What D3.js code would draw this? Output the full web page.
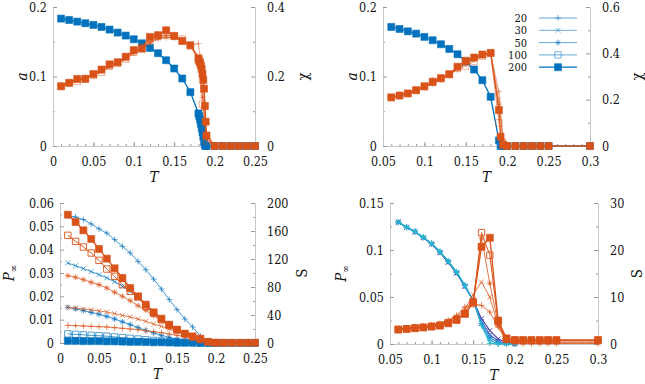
<!DOCTYPE html>
<html>
<head>
<meta charset="utf-8">
<script src="https://cdn.jsdelivr.net/npm/d3@7"></script>
<style>
  body { margin: 0; background: #fff; }
  svg text { font-family: "DejaVu Serif Condensed", "DejaVu Serif", serif; font-stretch: condensed; fill: #111; }
</style>
</head>
<body>
<svg id="chart" width="645" height="384"></svg>
<script>
// system sizes and their marker
var sizes = ["20", "30", "50", "100", "200"];
var markerOf = { "20": "plus", "30": "cross", "50": "star", "100": "osq", "200": "sq" };

// ---- panel A (top left): a and chi vs T
var tA = [0.01,0.02,0.03,0.04,0.05,0.06,0.07,0.08,0.09,0.10,0.11,0.12,0.13,0.14,0.15,0.16,0.17,0.18,0.185,0.19,0.2];
var tA200 = [0.01,0.02,0.03,0.04,0.05,0.06,0.07,0.08,0.09,0.10,0.11,0.12,0.13,0.14,0.15,0.16,0.17,0.18,
  0.181,0.182,0.183,0.184,0.185,0.186,0.187,0.188,0.189,0.19,0.2,0.21,0.22,0.23,0.24,0.25];
var aA200 = [0.1833,0.1813,0.179,0.1766,0.1742,0.1713,0.1675,0.1632,0.1589,0.1536,0.1478,0.1411,0.1335,0.1234,0.1115,0.0971,0.0775,0.0469,
  0.043,0.038,0.032,0.026,0.02,0.013,0.006,0.001,0,0,0,0,0,0,0,0];
var chiA200 = [0.172,0.182,0.193,0.193,0.207,0.22,0.235,0.241,0.257,0.276,0.28,0.314,0.319,0.333,0.317,0.302,0.29,0.252,
  0.245,0.24,0.232,0.222,0.208,0.19,0.165,0.115,0.07,0.03,0,0,0,0,0,0];
var chiA20 = [0.175,0.182,0.19,0.198,0.206,0.216,0.228,0.24,0.252,0.267,0.282,0.297,0.308,0.312,0.31,0.304,0.288,0.295,0.2,0.04,0];
var chiA30 = [0.172,0.18,0.188,0.196,0.204,0.214,0.226,0.238,0.25,0.266,0.28,0.296,0.31,0.313,0.312,0.305,0.29,0.26,0.16,0.03,0];
var chiA50 = [0.17,0.181,0.19,0.195,0.205,0.218,0.232,0.24,0.255,0.272,0.283,0.3,0.312,0.318,0.314,0.306,0.292,0.25,0.14,0.02,0];
var chiA100 = [0.171,0.18,0.186,0.194,0.203,0.212,0.23,0.238,0.25,0.27,0.285,0.305,0.315,0.32,0.316,0.308,0.288,0.245,0.12,0.015,0];

// ---- panel B (top right): a and chi vs T
var tB = [0.06,0.07,0.08,0.09,0.10,0.11,0.12,0.13,0.14,0.15,0.16,0.17,0.18,0.19,0.195,0.2];
var tB200 = [0.06,0.07,0.08,0.09,0.10,0.11,0.12,0.13,0.14,0.15,0.16,0.17,0.18,0.19,0.192,0.195,0.2,0.21,0.22,0.23,0.24,0.25,0.3];
var aB200 = [0.1713,0.1684,0.165,0.1617,0.157,0.1522,0.1464,0.1397,0.132,0.1215,0.11,0.0947,0.0708,0.008,0,0,0,0,0,0,0,0,0];
var chiB200 = [0.21,0.218,0.227,0.241,0.258,0.276,0.293,0.31,0.342,0.368,0.382,0.395,0.402,0.155,0.04,0.005,0,0,0,0,0,0,0];
var chiB20 = [0.212,0.22,0.228,0.238,0.252,0.268,0.285,0.305,0.33,0.355,0.375,0.39,0.398,0.235,0.03,0];
var chiB30 = [0.208,0.219,0.23,0.244,0.255,0.27,0.29,0.308,0.335,0.36,0.378,0.39,0.4,0.2,0.02,0];
var chiB50 = [0.21,0.215,0.225,0.24,0.26,0.285,0.295,0.312,0.338,0.355,0.372,0.392,0.401,0.18,0.015,0];
var chiB100 = [0.209,0.217,0.226,0.24,0.255,0.28,0.29,0.308,0.335,0.345,0.365,0.388,0.4,0.1,0.01,0];

// ---- panel C (bottom left): P_inf and S vs T
var tC = [0.01,0.02,0.03,0.04,0.05,0.06,0.07,0.08,0.09,0.10,0.11,0.12,0.13,0.14,0.15,0.16,0.17,0.18,0.19,0.2];
var tC200 = [0.01,0.02,0.03,0.04,0.05,0.06,0.07,0.08,0.09,0.10,0.11,0.12,0.13,0.14,0.15,0.16,0.17,0.18,0.19,0.2,0.21,0.22,0.23,0.24,0.25];
var pC20 = [0.0546,0.054,0.0529,0.051,0.0489,0.0471,0.0443,0.0414,0.0386,0.035,0.0314,0.0274,0.0231,0.0186,0.0143,0.0103,0.0069,0.0029,0.0007,0];
var pC30 = [0.0343,0.0331,0.0319,0.0306,0.0293,0.0279,0.0263,0.0243,0.0221,0.0193,0.0164,0.0136,0.0107,0.0079,0.0057,0.004,0.0026,0.0014,0.0006,0];
var pC50 = [0.0153,0.0146,0.0139,0.0131,0.0123,0.0114,0.0103,0.0091,0.0079,0.0066,0.0054,0.0043,0.0033,0.0024,0.0017,0.0011,0.0007,0.0004,0.0002,0];
var pC100 = [0.0039,0.0037,0.0035,0.0033,0.0031,0.0029,0.0026,0.0023,0.002,0.0017,0.0014,0.0011,0.0009,0.0007,0.0005,0.0003,0.0002,0.0001,0,0];
var pC200 = [0.0009,0.0009,0.0008,0.0008,0.0008,0.0007,0.0007,0.0006,0.0005,0.0005,0.0004,0.0003,0.0003,0.0002,0.0001,0.0001,0.0001,0,0,0,0,0,0,0,0];
var sC20 = [25.2,24.8,24.3,23.8,23.3,22.9,21.9,21,20,19,17.6,16.2,14.8,12.9,11,9,7.1,5.2,3.3,1.5];
var sC30 = [51,50,48.6,47.6,45.7,44.3,41.9,39.5,37.1,34.3,31,27.1,23.8,20,16.2,12.9,9.5,6.2,3.3,1];
var sC50 = [96.2,93.8,90.5,86.7,83.3,78.6,72.4,66.7,60.5,53.3,46.7,39,31.9,23.8,18.1,12.9,9,5.2,2.4,0.5];
var sC100 = [153.8,145.2,137.1,128.6,118.1,105.7,95.2,83.3,73.8,65.7,52.4,42.9,33.3,24.8,19,13.3,8.6,4.8,1.9,0.5];
var sC200 = [183.3,172.9,161,148.6,134.3,120.5,106.7,92.9,78.6,66.7,54.8,43.8,34.8,26.2,19,13.3,9.5,6.2,1.5,0.5,0.4,0.4,0.4,0.4,0.4];

// ---- panel D (bottom right): P_inf and S vs T
var tD = [0.06,0.07,0.08,0.09,0.10,0.11,0.12,0.13,0.14,0.15,0.16,0.17,0.18,0.19,0.2];
var tDs = [0.06,0.07,0.08,0.09,0.10,0.11,0.12,0.13,0.14,0.15,0.16,0.17,0.18,0.19,0.2,0.21,0.22,0.23,0.24,0.25,0.3];
var pD20 = [0.1296,0.1241,0.1192,0.113,0.1062,0.0972,0.0868,0.0752,0.061,0.0462,0.027,0.0143,0.0054,0.0018,0.0005];
var pD30 = [0.1296,0.1242,0.1194,0.1133,0.1066,0.0976,0.0874,0.0758,0.0616,0.0463,0.024,0.01,0.003,0.0008,0];
var pD50 = [0.1296,0.1242,0.1195,0.1134,0.1068,0.0979,0.0878,0.0763,0.062,0.0464,0.022,0.007,0.0015,0.0002,0];
var pD100 = [0.1296,0.1243,0.1196,0.1135,0.107,0.0981,0.088,0.0766,0.0623,0.0464,0.02,0.004,0.0004,0,0];
var pD200 = [0.1296,0.1243,0.1196,0.1136,0.1071,0.0982,0.0882,0.0768,0.0625,0.0464,0.0196,0.0008,0,0,0];
var sD20 = [3.25,3.4,3.6,3.8,4.05,4.4,5.1,6.1,7.9,8.6,8.2,6.8,3.6,0.6,0.2,0.1,0.1,0.1,0.1,0.1,0.1];
var sD30 = [3.2,3.35,3.5,3.7,3.95,4.3,4.9,5.8,7.4,10.5,13.2,10,3.9,0.7,0.3,0.25,0.25,0.25,0.25,0.25,0.25];
var sD50 = [3.15,3.3,3.45,3.6,3.85,4.1,4.7,5.5,6.9,9.3,22.5,12.9,4.3,0.86,0.5,0.45,0.45,0.45,0.45,0.45,0.45];
var sD100 = [3.1,3.25,3.4,3.55,3.75,4.0,4.5,5.2,6.5,8.6,23.7,18.9,4.6,1.0,0.8,0.75,0.75,0.75,0.75,0.75,0.75];
var sD200 = [3.07,3.2,3.36,3.5,3.7,3.9,4.4,5.1,6.4,8.9,20.7,22.6,5,1.2,0.86,0.86,0.86,0.86,0.86,0.86,0.86];

// tick values
var xTicksA = [0, 0.05, 0.1, 0.15, 0.2, 0.25];
var xTicksB = [0.05, 0.1, 0.15, 0.2, 0.25, 0.3];
var aTicks = [0, 0.1, 0.2];
var chiTicksA = [0, 0.2, 0.4];
var chiTicksB = [0, 0.2, 0.4, 0.6];
var pTicksC = [0, 0.01, 0.02, 0.03, 0.04, 0.05, 0.06];
var sTicksC = [0, 40, 80, 120, 160, 200];
var pTicksD = [0, 0.05, 0.1, 0.15];
var sTicksD = [0, 10, 20, 30];

var blue = "#0072BD";
var orange = "#D95319";
var blueShades = { "20": "#4a3fa6", "30": "#3b62c2", "50": "#2f86d2", "100": "#27a5d5", "200": "#22bacb" };
var axisGrey = "#c8c8c8";
var tickGrey = "#9a9a9a";
var serif = '"DejaVu Serif Condensed", "DejaVu Serif", serif';

var svg = d3.select("#chart");

function fmt(d) {
  return String(+d.toFixed(3));
}

function range(a, b, s) {
  return d3.range(0, Math.round((b - a) / s) + 1).map(function (i) { return +(a + i * s).toFixed(4); });
}

function markerPath(type, s) {
  if (type == "plus") return "M" + -s + ",0H" + s + "M0," + -s + "V" + s;
  if (type == "cross") {
    var c = s * 0.8;
    return "M" + -c + "," + -c + "L" + c + "," + c + "M" + -c + "," + c + "L" + c + "," + -c;
  }
  if (type == "star") {
    var k = s * 0.7;
    return "M" + -s + ",0H" + s + "M0," + -s + "V" + s +
      "M" + -k + "," + -k + "L" + k + "," + k + "M" + -k + "," + k + "L" + k + "," + -k;
  }
  return "M" + -s + "," + -s + "h" + 2 * s + "v" + 2 * s + "h" + -2 * s + "Z";
}

function drawMarkers(g, pts, type, color, opacity) {
  var filled = type == "sq";
  var size = type == "sq" ? 3.5 : type == "osq" ? 3.2 : 3;
  g.selectAll(null)
    .data(pts)
    .enter()
    .append("path")
    .attr("transform", function (d) { return "translate(" + d[0] + "," + d[1] + ")"; })
    .attr("d", markerPath(type, size))
    .attr("fill", filled ? color : "none")
    .attr("stroke", color)
    .attr("stroke-width", filled ? 0.6 : 0.9)
    .attr("opacity", opacity);
}

function drawPanel(p) {
  var g = svg.append("g");
  var x = d3.scaleLinear().domain(p.xDomain).range([p.x0, p.x1]);
  var yl = d3.scaleLinear().domain(p.ylDomain).range([p.y1, p.y0]);
  var yr = d3.scaleLinear().domain(p.yrDomain).range([p.y1, p.y0]);

  // minor ticks first
  var minors = [
    [d3.axisBottom(x).tickValues(p.xMinor), "translate(0," + p.y1 + ")"],
    [d3.axisLeft(yl).tickValues(p.ylMinor), "translate(" + p.x0 + ",0)"],
    [d3.axisRight(yr).tickValues(p.yrMinor), "translate(" + p.x1 + ",0)"]
  ];
  minors.forEach(function (m) {
    var ag = g.append("g").attr("transform", m[1])
      .call(m[0].tickSize(-2).tickFormat(""));
    ag.select(".domain").remove();
    ag.selectAll("line").attr("stroke", tickGrey);
  });

  var axes = [
    [d3.axisBottom(x).tickValues(p.xTicks).tickPadding(11), "translate(0," + p.y1 + ")"],
    [d3.axisLeft(yl).tickValues(p.ylTicks).tickPadding(6), "translate(" + p.x0 + ",0)"],
    [d3.axisRight(yr).tickValues(p.yrTicks).tickPadding(12), "translate(" + p.x1 + ",0)"]
  ];
  axes.forEach(function (a) {
    var ag = g.append("g").attr("transform", a[1])
      .call(a[0].tickSize(-4).tickSizeOuter(0).tickFormat(fmt));
    ag.attr("font-family", serif);
    ag.select(".domain").attr("stroke", axisGrey);
    ag.selectAll("line").attr("stroke", tickGrey);
    ag.selectAll("text").attr("font-size", 12.5).attr("fill", "#111");
  });

  // series
  p.series.forEach(function (s) {
    var ys = s.axis == "r" ? yr : yl;
    var pts = s.t.map(function (t, i) { return [x(t), ys(s.v[i])]; });
    g.append("path")
      .attr("d", d3.line()(pts))
      .attr("fill", "none")
      .attr("stroke", s.color)
      .attr("stroke-width", s.width || 1)
      .attr("opacity", s.opacity);
    drawMarkers(g, pts, s.m, s.color, s.opacity);
  });

  // axis titles
  var xm = (p.x0 + p.x1) / 2;
  var ym = (p.y0 + p.y1) / 2;
  g.append("text").attr("x", xm).attr("y", p.y1 + 36)
    .attr("text-anchor", "middle").attr("font-size", 15).attr("font-style", "italic").text("T");

  var lt = g.append("text")
    .attr("transform", "translate(" + p.ylx + "," + ym + ") rotate(-90)")
    .attr("text-anchor", "middle").attr("font-size", 15);
  lt.append("tspan").attr("font-style", "italic").text(p.ylLabel);
  if (p.ylSub) lt.append("tspan").attr("font-size", 10).attr("dy", 3).text(p.ylSub);

  g.append("text")
    .attr("transform", "translate(" + p.yrx + "," + ym + ") rotate(-90)")
    .attr("text-anchor", "middle").attr("font-size", 15).text(p.yrLabel);
}

// panel A
var chiA = { "20": chiA20, "30": chiA30, "50": chiA50, "100": chiA100 };
var seriesA = [{ t: tA200, v: aA200, axis: "l", color: blue, m: "sq", opacity: 1, width: 1.3 }];
sizes.slice(0, 4).forEach(function (L) {
  seriesA.push({ t: tA, v: chiA[L], axis: "r", color: orange, m: markerOf[L], opacity: 0.5 });
});
seriesA.push({ t: tA200, v: chiA200, axis: "r", color: orange, m: "sq", opacity: 1, width: 1.3 });

drawPanel({
  x0: 53, x1: 255, y0: 7, y1: 146,
  xDomain: [0, 0.25], ylDomain: [0, 0.2], yrDomain: [0, 0.4],
  xTicks: xTicksA, xMinor: range(0, 0.25, 0.01),
  ylTicks: aTicks, ylMinor: [0.05, 0.15],
  yrTicks: chiTicksA, yrMinor: [0.1, 0.3],
  ylLabel: "a", ylx: 27, yrLabel: "χ", yrx: 308,
  series: seriesA
});

// panel B
var chiB = { "20": chiB20, "30": chiB30, "50": chiB50, "100": chiB100 };
var seriesB = [{ t: tB200, v: aB200, axis: "l", color: blue, m: "sq", opacity: 1, width: 1.3 }];
sizes.slice(0, 4).forEach(function (L) {
  seriesB.push({ t: tB, v: chiB[L], axis: "r", color: orange, m: markerOf[L], opacity: 0.5 });
});
seriesB.push({ t: tB200, v: chiB200, axis: "r", color: orange, m: "sq", opacity: 1, width: 1.3 });

drawPanel({
  x0: 383, x1: 590, y0: 7, y1: 146,
  xDomain: [0.05, 0.3], ylDomain: [0, 0.2], yrDomain: [0, 0.6],
  xTicks: xTicksB, xMinor: range(0.05, 0.3, 0.01),
  ylTicks: aTicks, ylMinor: [0.05, 0.15],
  yrTicks: chiTicksB, yrMinor: [0.1, 0.3, 0.5],
  ylLabel: "a", ylx: 357, yrLabel: "χ", yrx: 642,
  series: seriesB
});

// legend (panel B)
var leg = svg.append("g").attr("font-family", serif);
sizes.forEach(function (L, i) {
  var y = 18 + i * 12.3;
  leg.append("text").attr("x", 527).attr("y", y + 4)
    .attr("text-anchor", "end").attr("font-size", 11).text(L);
  var op = L == "200" ? 1 : 0.6;
  leg.append("line").attr("x1", 539).attr("x2", 577).attr("y1", y).attr("y2", y)
    .attr("stroke", blue).attr("stroke-width", L == "200" ? 1.3 : 1).attr("opacity", op);
  drawMarkers(leg, [[558, y]], markerOf[L], blue, op);
});

// panel C
var pC = { "20": pC20, "30": pC30, "50": pC50, "100": pC100, "200": pC200 };
var sC = { "20": sC20, "30": sC30, "50": sC50, "100": sC100, "200": sC200 };
var seriesC = [];
sizes.forEach(function (L) {
  seriesC.push({ t: L == "200" ? tC200 : tC, v: pC[L], axis: "l", color: blue, m: markerOf[L],
    opacity: L == "200" ? 1 : 0.75, width: L == "200" ? 1.3 : 1 });
});
sizes.forEach(function (L) {
  seriesC.push({ t: L == "200" ? tC200 : tC, v: sC[L], axis: "r", color: orange, m: markerOf[L],
    opacity: L == "200" || L == "100" ? 1 : 0.75, width: L == "200" ? 1.3 : 1 });
});

drawPanel({
  x0: 60, x1: 255, y0: 203, y1: 343,
  xDomain: [0, 0.25], ylDomain: [0, 0.06], yrDomain: [0, 200],
  xTicks: xTicksA, xMinor: range(0, 0.25, 0.01),
  ylTicks: pTicksC, ylMinor: range(0.005, 0.055, 0.01),
  yrTicks: sTicksC, yrMinor: [20, 60, 100, 140, 180],
  ylLabel: "P", ylSub: "∞", ylx: 14, yrLabel: "S", yrx: 307,
  series: seriesC
});

// panel D: blue curves carry only small markers
var markerD = { "20": "cross", "30": "cross", "50": "star", "100": "plus", "200": "plus" };
var pD = { "20": pD20, "30": pD30, "50": pD50, "100": pD100, "200": pD200 };
var sD = { "20": sD20, "30": sD30, "50": sD50, "100": sD100, "200": sD200 };
var seriesD = [];
sizes.forEach(function (L) {
  seriesD.push({ t: tD, v: pD[L], axis: "l", color: blueShades[L], m: markerD[L], opacity: 1, width: 1.1 });
});
sizes.forEach(function (L) {
  seriesD.push({ t: tDs, v: sD[L], axis: "r", color: orange, m: markerOf[L],
    opacity: L == "200" || L == "100" ? 1 : 0.8, width: L == "200" ? 1.3 : 1 });
});

drawPanel({
  x0: 390, x1: 598, y0: 203, y1: 344,
  xDomain: [0.05, 0.3], ylDomain: [0, 0.15], yrDomain: [0, 30],
  xTicks: xTicksB, xMinor: range(0.05, 0.3, 0.01),
  ylTicks: pTicksD, ylMinor: [0.025, 0.075, 0.125],
  yrTicks: sTicksD, yrMinor: [5, 15, 25],
  ylLabel: "P", ylSub: "∞", ylx: 346, yrLabel: "S", yrx: 642,
  series: seriesD
});
</script>
</body>
</html>
